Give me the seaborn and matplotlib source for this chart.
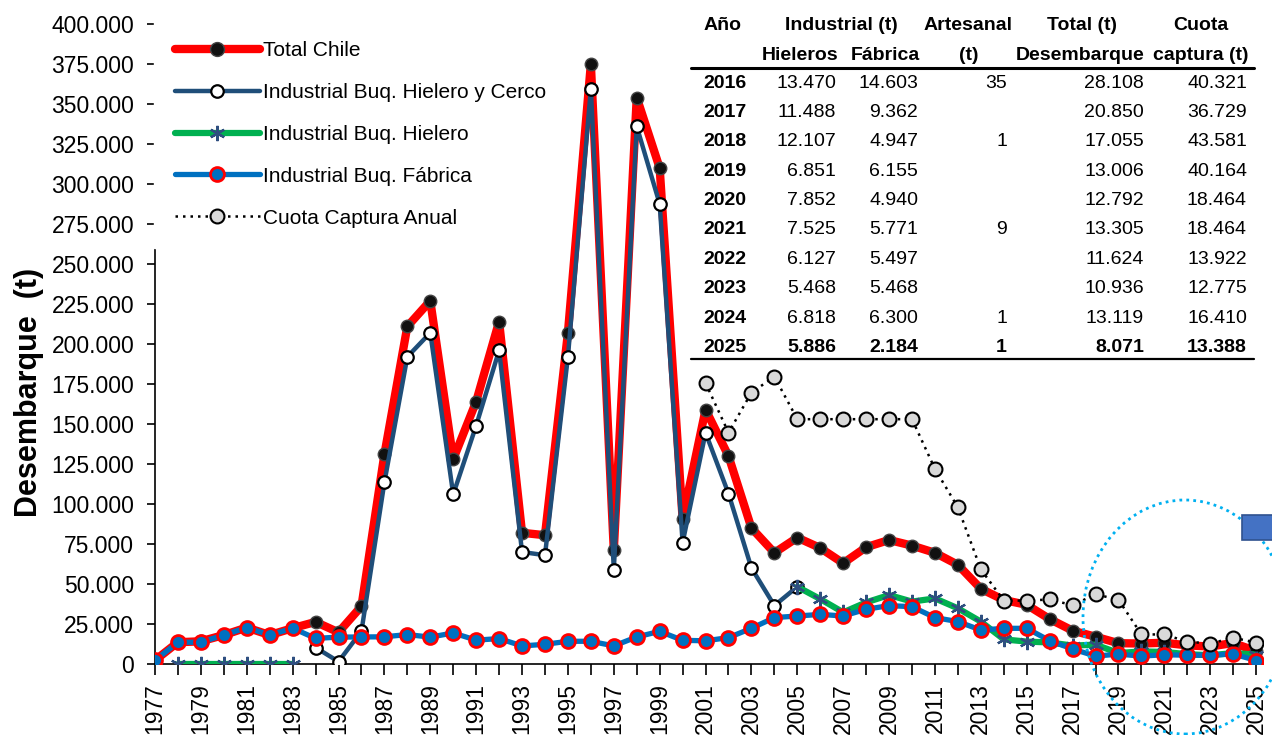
import matplotlib
matplotlib.use("Agg")
import matplotlib.pyplot as plt
import seaborn as sns
import pandas as pd
import numpy as np
from matplotlib.ticker import FuncFormatter
from matplotlib.patches import Ellipse, Rectangle
from matplotlib.lines import Line2D

# estilo
sns.set_theme(style="white")
plt.rcParams['font.family'] = ['Liberation Sans', 'DejaVu Sans']
plt.rcParams['text.color'] = 'black'
plt.rcParams['axes.labelcolor'] = 'black'
plt.rcParams['xtick.color'] = 'black'
plt.rcParams['ytick.color'] = 'black'

# ---------------- datos ----------------
anios = list(range(1977, 2026))

total_chile = [2300, 13600, 14200, 18100, 22800, 18100, 22400, 26300, 19800, 36100,
               131000, 211000, 227000, 128000, 164000, 214000, 82000, 80500, 207000, 375000,
               71000, 354000, 310000, 90600, 159000, 130000, 85000, 69500, 79000, 72500,
               63000, 73000, 77500, 74000, 69500, 62000, 47000, 40000, 37000, 28108,
               20850, 17055, 13006, 12792, 13305, 11624, 10936, 13119, 8071]

anios_hyc = list(range(1984, 2006))
hielero_cerco = [10300, 1500, 20500, 113500, 192000, 207000, 106000, 149000, 196000, 70000,
                 68000, 192000, 359400, 59000, 336000, 287500, 75800, 144500, 106500, 60000,
                 36500, 48300]

anios_hielero_a = list(range(1978, 1984))
hielero_a = [0, 0, 0, 0, 0, 0]
anios_hielero_b = list(range(2005, 2026))
hielero_b = [48300, 40600, 32300, 38500, 43100, 39000, 41000, 34800, 26500, 15400,
             14000, 13470, 11488, 12107, 6851, 7852, 7525, 6127, 5468, 6818, 5886]

fabrica = [2300, 13600, 13600, 18100, 22800, 18100, 22400, 16000, 16800, 16900,
           17000, 18400, 16800, 19400, 14900, 15900, 11300, 12300, 14200, 14200,
           11300, 16900, 20400, 14800, 14500, 16500, 22300, 29000, 30000, 31000,
           30000, 34200, 36500, 35800, 29000, 26500, 21200, 22300, 22300, 14603,
           9362, 4947, 6155, 4940, 5771, 5497, 5468, 6300, 2184]

anios_cuota = list(range(2001, 2026))
cuota = [175600, 144600, 169600, 179600, 153000, 153000, 153000, 153000, 153000, 153000,
         121900, 97900, 59200, 39600, 39600, 40321, 36729, 43581, 40164, 18464,
         18464, 13922, 12775, 16410, 13388]

# tabla
tabla_anio = [2016, 2017, 2018, 2019, 2020, 2021, 2022, 2023, 2024, 2025]
tabla_hieleros = [13470, 11488, 12107, 6851, 7852, 7525, 6127, 5468, 6818, 5886]
tabla_fabrica = [14603, 9362, 4947, 6155, 4940, 5771, 5497, 5468, 6300, 2184]
tabla_artesanal = [35, None, 1, None, None, 9, None, None, 1, 1]
tabla_total = [28108, 20850, 17055, 13006, 12792, 13305, 11624, 10936, 13119, 8071]
tabla_cuota = [40321, 36729, 43581, 40164, 18464, 18464, 13922, 12775, 16410, 13388]


def miles(v):
    return f"{int(v):,}".replace(",", ".")


W, H = 1272, 735
fig = plt.figure(figsize=(W / 100, H / 100), dpi=100)
ax = fig.add_axes([155 / W, (H - 664) / H, (1263 - 155) / W, 640 / H])

# ---------------- series ----------------
sns.lineplot(x=anios, y=total_chile, ax=ax, color='#FF0000', linewidth=6,
             marker='o', markersize=9, markerfacecolor='#111111', markeredgecolor='#444444',
             markeredgewidth=1, zorder=3)
sns.lineplot(x=anios_hyc, y=hielero_cerco, ax=ax, color='#1F4E79', linewidth=3.2,
             marker='o', markersize=9, markerfacecolor='white', markeredgecolor='black',
             markeredgewidth=1.6, zorder=4)
for xs, ys in [(anios_hielero_a, hielero_a), (anios_hielero_b, hielero_b)]:
    sns.lineplot(x=xs, y=ys, ax=ax, color='#00B050', linewidth=4.5,
                 marker=(6, 2, 0), markersize=11, markeredgecolor='#2F4F80',
                 markerfacecolor='#2F4F80', markeredgewidth=1.6, zorder=5)
sns.lineplot(x=anios, y=fabrica, ax=ax, color='#0070C0', linewidth=3.8,
             marker='o', markersize=10, markerfacecolor='#0070C0', markeredgecolor='#FF0000',
             markeredgewidth=2, zorder=6)
sns.lineplot(x=anios_cuota, y=cuota, ax=ax, color='black', linewidth=1.8, linestyle=(0, (1, 2.0)),
             marker='o', markersize=10, markerfacecolor='#D9D9D9', markeredgecolor='black',
             markeredgewidth=1.5, zorder=7)

# ---------------- ejes ----------------
ax.set_xlim(1977, 2025.3)
ax.set_ylim(0, 400000)
ax.set_yticks(np.arange(0, 400001, 25000))
ax.yaxis.set_major_formatter(FuncFormatter(lambda v, p: miles(v)))
ax.set_xticks(anios)
ax.set_xticklabels([str(a) if a % 2 == 1 else '' for a in anios], rotation=90)
ax.tick_params(axis='y', direction='out', length=6, width=1.2, pad=9, labelsize=16.5, left=True)
ax.tick_params(axis='x', direction='out', length=8, width=1.2, pad=6, labelsize=16.5, bottom=True)
for s in ['top', 'right']:
    ax.spines[s].set_visible(False)
for s in ['left', 'bottom']:
    ax.spines[s].set_color('black')
    ax.spines[s].set_linewidth(1.2)
ax.set_xlabel('')
ax.set_ylabel('Desembarque  (t)', fontsize=22, fontweight='bold')
ax.yaxis.set_label_coords((44 - 155) / 1108, 0.425)

# ---------------- leyenda ----------------
handles = [
    Line2D([], [], color='#FF0000', linewidth=6, marker='o', markersize=10,
           markerfacecolor='#111111', markeredgecolor='#444444'),
    Line2D([], [], color='#1F4E79', linewidth=3.2, marker='o', markersize=9,
           markerfacecolor='white', markeredgecolor='black', markeredgewidth=1.6),
    Line2D([], [], color='#00B050', linewidth=4.5, marker=(6, 2, 0), markersize=11,
           markerfacecolor='#2F4F80', markeredgecolor='#2F4F80', markeredgewidth=1.6),
    Line2D([], [], color='#0070C0', linewidth=3.8, marker='o', markersize=10,
           markerfacecolor='#0070C0', markeredgecolor='#FF0000', markeredgewidth=2),
    Line2D([], [], color='black', linewidth=1.8, linestyle=(0, (1, 2.0)), marker='o',
           markersize=10, markerfacecolor='#D9D9D9', markeredgecolor='black', markeredgewidth=1.5),
]
etiquetas = ['Total Chile', 'Industrial Buq. Hielero y Cerco', 'Industrial Buq. Hielero',
             'Industrial Buq. Fábrica', 'Cuota Captura Anual']
leg = ax.legend(handles, etiquetas, loc='upper left', bbox_to_anchor=(-0.001, 1.006),
                borderaxespad=0, frameon=True, fontsize=15, handlelength=4.1,
                handletextpad=0.15, labelspacing=1.1, borderpad=1.0, numpoints=1)
leg.get_frame().set_facecolor('white')
leg.get_frame().set_edgecolor('white')
leg.get_frame().set_alpha(1)
leg.get_frame().set_boxstyle('square', pad=0)


# ---------------- tabla ----------------
def px(x, y):
    return x / W, 1 - y / H


def txt(x, y, s, ha='right', bold=False):
    fx, fy = px(x, y)
    fig.text(fx, fy, s, ha=ha, va='center', fontsize=14,
             fontweight='bold' if bold else 'normal', color='black')


cab1 = [(723, 'Año'), (841, 'Industrial (t)'), (968, 'Artesanal'), (1082, 'Total (t)'), (1201, 'Cuota')]
cab2 = [(800, 'Hieleros'), (885, 'Fábrica'), (969, '(t)'), (1080, 'Desembarque'), (1201, 'captura (t)')]
for x, s in cab1:
    txt(x, 26, s, ha='center', bold=True)
for x, s in cab2:
    txt(x, 55, s, ha='center', bold=True)

for i, a in enumerate(tabla_anio):
    y = 83 + 29.4 * i
    negrita = (a == 2025)
    txt(725, y, str(a), ha='center', bold=True)
    txt(836, y, miles(tabla_hieleros[i]), bold=negrita)
    txt(918, y, miles(tabla_fabrica[i]), bold=negrita)
    if tabla_artesanal[i] is not None:
        txt(1007, y, miles(tabla_artesanal[i]), bold=negrita)
    txt(1144, y, miles(tabla_total[i]), bold=negrita)
    txt(1247, y, miles(tabla_cuota[i]), bold=negrita)

for yy, lw in [(68, 2.2), (359, 1.6)]:
    x0, y0 = px(691, yy)
    x1, _ = px(1254, yy)
    fig.add_artist(Line2D([x0, x1], [y0, y0], color='black', linewidth=lw, transform=fig.transFigure))

# ---------------- circulo y rectangulo ----------------
cx, cy = px(1185, 617)
fig.add_artist(Ellipse((cx, cy), 204 / W, 234 / H, transform=fig.transFigure, fill=False,
                       edgecolor='#00B0F0', linewidth=2, linestyle=(0, (1, 1.5)), zorder=10))
rx, ry = px(1242, 540)
fig.add_artist(Rectangle((rx, ry), 40 / W, 25 / H, transform=fig.transFigure,
                         facecolor='#4472C4', edgecolor='#2F528F', linewidth=1.2, zorder=10))

fig.savefig('out.png', dpi=100)
